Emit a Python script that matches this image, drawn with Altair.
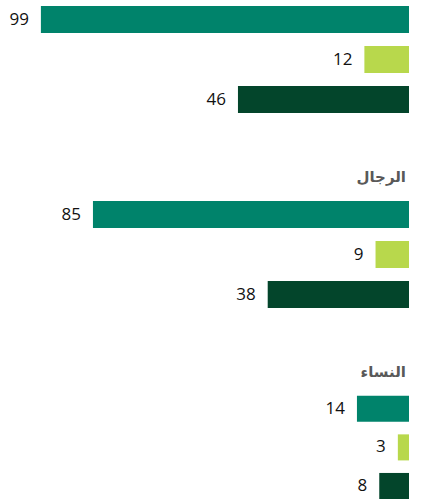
import altair as alt
import pandas as pd

# Data
series = ["s1", "s2", "s3"]
group_titles = ["", "الرجال", "النساء"]   # title of the first group is cropped out
values_group1 = [99, 12, 46]
values_group2 = [85, 9, 38]
values_group3 = [14, 3, 8]
colors = ["#00836B", "#B8D84C", "#03452B"]

panel_heights = [113, 113, 109]


def panel(vals, title, height):
    df = pd.DataFrame({"series": series, "value": vals})
    y = alt.Y("series:N", sort=series, axis=None,
              scale=alt.Scale(paddingInner=0.325, paddingOuter=0.075, align=1))
    x = alt.X("value:Q", axis=None,
              scale=alt.Scale(domain=[0, 110], reverse=True, nice=False, zero=True))
    base = alt.Chart(df)
    bars = base.mark_bar().encode(
        x=x, y=y,
        color=alt.Color("series:N", scale=alt.Scale(domain=series, range=colors), legend=None),
    )
    labels = base.mark_text(align="right", baseline="middle", dx=-12, fontSize=17,
                            font="Open Sans", color="#111111").encode(
        x=x, y=y, text="value:Q")
    ch = alt.layer(bars, labels).properties(width=409, height=height)
    if title:
        ch = ch.properties(title=alt.TitleParams(
            title, anchor="end", fontSize=15, fontWeight="bold", font="DejaVu Sans",
            color="#595959", offset=10, dx=-3))
    return ch


all_vals = [values_group1, values_group2, values_group3]
chart = alt.vconcat(
    *[panel(v, t, h) for v, t, h in zip(all_vals, group_titles, panel_heights)],
    spacing=57,
).properties(
    padding={"left": 0, "top": 0, "right": 0, "bottom": 0},
    background="white",
).configure_view(stroke=None)

chart.save("out.html", embed_options={"renderer": "svg", "actions": False})
